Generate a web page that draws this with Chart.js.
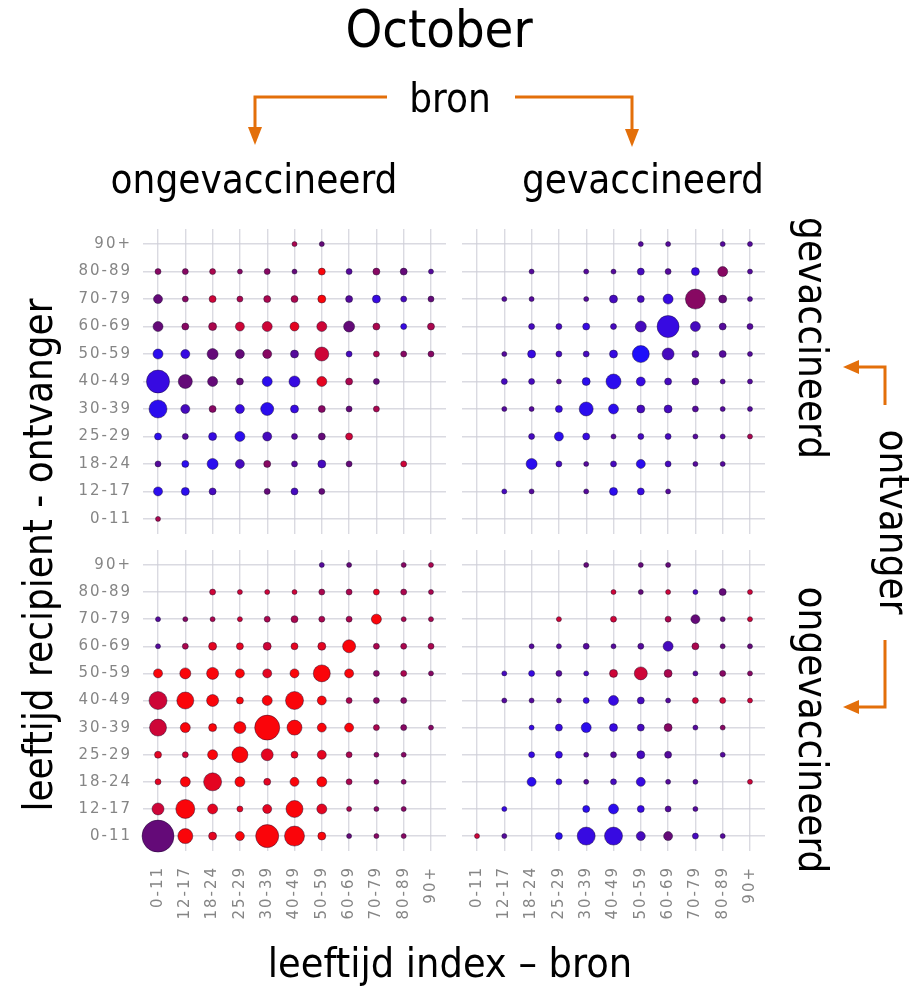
<!DOCTYPE html>
<html>
<head>
<meta charset="utf-8">
<script src="https://cdn.jsdelivr.net/npm/chart.js@4"></script>
<style>
  html, body { margin: 0; padding: 0; background: #fff; }
  #page { position: relative; width: 910px; height: 987px; background: #fff; overflow: hidden; }
  #page canvas { position: absolute; filter: blur(0.6px); }
  #notes { position: absolute; left: 0; top: 0; width: 910px; height: 987px; pointer-events: none; }
  #notes text { font-family: "DejaVu Sans", sans-serif; font-stretch: condensed; fill: #000; }
</style>
</head>
<body>
<div id="page">
  <canvas id="tl" width="406" height="305" style="left:40px; top:229px;"></canvas>
  <canvas id="tr" width="303" height="305" style="left:462px; top:229px;"></canvas>
  <canvas id="bl" width="406" height="391" style="left:40px; top:550px;"></canvas>
  <canvas id="br" width="303" height="391" style="left:462px; top:550px;"></canvas>
  <svg id="notes" viewBox="0 0 910 987">
    <text x="439" y="47" font-size="52" text-anchor="middle">October</text>
    <text x="450" y="112" font-size="40" text-anchor="middle">bron</text>
    <text x="254" y="193" font-size="40" text-anchor="middle">ongevaccineerd</text>
    <text x="643" y="193" font-size="40" text-anchor="middle">gevaccineerd</text>
    <text font-size="40" text-anchor="middle" transform="translate(799,338) rotate(90)">gevaccineerd</text>
    <text font-size="40" text-anchor="middle" transform="translate(799,730) rotate(90)">ongevaccineerd</text>
    <text font-size="40" text-anchor="middle" transform="translate(880,522) rotate(90)">ontvanger</text>
    <text font-size="40" text-anchor="middle" transform="translate(52,555) rotate(-90)">leeftijd recipient - ontvanger</text>
    <text x="450" y="977" font-size="41" text-anchor="middle">leeftijd index – bron</text>
    <g stroke="#e36f0a" stroke-width="3" fill="none">
      <polyline points="387,97 255,97 255,128"/>
      <polyline points="515,97 632,97 632,130"/>
      <polyline points="885,405 885,367 858,367"/>
      <polyline points="885,640 885,707 858,707"/>
    </g>
    <g fill="#e36f0a">
      <polygon points="248,127 262,127 255,145"/>
      <polygon points="625,129 639,129 632,147"/>
      <polygon points="859,360 859,374 843,367"/>
      <polygon points="859,700 859,714 843,707"/>
    </g>
  </svg>
</div>
<script>
// Age groups used on both axes (source index age and recipient age)
const AGES = ['0-11', '12-17', '18-24', '25-29', '30-39', '40-49', '50-59', '60-69', '70-79', '80-89', '90+'];

// Each grid: one row per recipient age group (0-11 first), one column per source age group.
// Size = bubble radius, 0 = no contacts recorded.
// Share = how much of the cell comes from unvaccinated recipients (0 = blue, 10 = red).

// source unvaccinated -> recipient vaccinated
const unvacToVacSize = [
  [2.5, 0, 0, 0, 0, 0, 0, 0, 0, 0, 0],
  [4.5, 4, 3.5, 0, 3, 3.5, 3, 0, 0, 0, 0],
  [3, 3.5, 5.5, 4.5, 3.5, 3, 4, 3, 0, 3, 0],
  [3.5, 3, 4, 5, 4.5, 3, 3.5, 3.5, 0, 0, 0],
  [9, 4.5, 3.5, 4.5, 6.5, 4, 3.5, 3, 3, 0, 0],
  [11.5, 7, 5, 3.5, 5, 5.5, 5, 3.5, 3, 0, 0],
  [5, 4.5, 5.5, 4.5, 4.5, 4, 7, 3, 3, 3, 3],
  [5, 3.5, 4, 4.5, 5, 4.5, 5, 5.5, 3.5, 3, 3.5],
  [4.5, 3, 3.5, 3, 3.5, 3.5, 4, 3.5, 4, 3, 3],
  [3, 3, 3, 2.5, 3, 2.5, 3.5, 3, 3.5, 3.5, 2.5],
  [0, 0, 0, 0, 0, 2.5, 2.5, 0, 0, 0, 0]
];
const unvacToVacShare = [
  [7, 0, 0, 0, 0, 0, 0, 0, 0, 0, 0],
  [1, 1, 3, 0, 5, 3, 5, 0, 0, 0, 0],
  [4, 1, 1, 3, 6, 4, 3, 5, 0, 8, 0],
  [1, 4, 2, 1, 3, 4, 5, 8, 0, 0, 0],
  [1, 3, 6, 2, 1, 2, 6, 5, 7, 0, 0],
  [2, 5, 5, 5, 1, 2, 9, 7, 5, 0, 0],
  [1, 2, 5, 5, 6, 4, 8, 3, 7, 6, 6],
  [5, 6, 7, 8, 8, 9, 8, 5, 7, 2, 7],
  [5, 6, 8, 7, 7, 7, 10, 4, 2, 3, 5],
  [6, 6, 7, 6, 6, 5, 10, 4, 6, 5, 4],
  [0, 0, 0, 0, 0, 7, 5, 0, 0, 0, 0]
];

// source vaccinated -> recipient vaccinated
const vacToVacSize = [
  [0, 0, 0, 0, 0, 0, 0, 0, 0, 0, 0],
  [0, 2.5, 2.5, 0, 2.5, 4, 3.5, 2.5, 0, 0, 0],
  [0, 0, 5.5, 3, 2.5, 3, 4.5, 3, 2.5, 2.5, 0],
  [0, 0, 3, 4.5, 3.5, 2.5, 3, 3, 2.5, 2.5, 2.5],
  [0, 2.5, 2.5, 3.5, 7, 5, 4, 4, 3, 2.5, 2.5],
  [0, 3, 3, 2.5, 4, 7.5, 4.5, 3.5, 3.5, 2.5, 2.5],
  [0, 2.5, 4, 3, 3, 4, 8.5, 6, 3.5, 3.5, 2.5],
  [0, 0, 3, 3, 3.5, 3, 5.5, 11, 5, 3.5, 3],
  [0, 2.5, 2.5, 0, 2.5, 4, 3.5, 5, 10, 4, 2.5],
  [0, 0, 2.5, 0, 2.5, 2.5, 3.5, 3, 4, 5, 2.5],
  [0, 0, 0, 0, 0, 0, 2.5, 2.5, 0, 2.5, 2.5]
];
const vacToVacShare = [
  [0, 0, 0, 0, 0, 0, 0, 0, 0, 0, 0],
  [0, 3, 4, 0, 4, 1, 2, 4, 0, 0, 0],
  [0, 0, 1, 3, 4, 3, 1, 3, 4, 4, 0],
  [0, 0, 3, 1, 2, 4, 3, 3, 4, 4, 7],
  [0, 4, 4, 2, 1, 1, 3, 3, 4, 4, 4],
  [0, 3, 3, 4, 1, 1, 2, 3, 4, 4, 4],
  [0, 4, 2, 3, 3, 2, 0, 3, 4, 4, 4],
  [0, 0, 3, 3, 2, 3, 3, 2, 3, 4, 4],
  [0, 4, 4, 0, 4, 3, 3, 2, 6, 5, 4],
  [0, 0, 4, 0, 4, 4, 3, 4, 2, 6, 4],
  [0, 0, 0, 0, 0, 0, 4, 4, 0, 4, 4]
];

// source unvaccinated -> recipient unvaccinated
const unvacToUnvacSize = [
  [16, 7.5, 4, 4.5, 11.5, 10, 4, 2.5, 2.5, 2.5, 0],
  [6, 9.5, 5, 3, 4.5, 8.5, 5, 2.5, 2.5, 2.5, 0],
  [3, 5, 9, 5, 3.5, 4.5, 5, 3, 2.5, 2.5, 0],
  [3.5, 3, 5, 8, 6, 3.5, 4.5, 3, 2.5, 2.5, 0],
  [8.5, 5, 4, 6, 12.5, 7.5, 4.5, 4.5, 3, 3, 2.5],
  [9, 8.5, 6, 3.5, 5, 9, 4.5, 3, 3, 3, 0],
  [4.5, 5.5, 6, 4.5, 4.5, 4.5, 8.5, 4.5, 3, 3, 2.5],
  [2.5, 3, 4, 3.5, 4, 3.5, 4, 6.5, 3, 3, 3],
  [2.5, 2.5, 2.5, 2.5, 3, 3.5, 3, 3, 5, 2.5, 2.5],
  [0, 0, 3, 2.5, 2.5, 2.5, 3, 3, 3, 3, 2.5],
  [0, 0, 0, 0, 0, 0, 2.5, 2.5, 0, 2.5, 2.5]
];
const unvacToUnvacShare = [
  [5, 10, 9, 10, 10, 10, 10, 5, 6, 6, 0],
  [8, 10, 9, 9, 9, 10, 9, 7, 6, 6, 0],
  [9, 10, 9, 10, 9, 10, 10, 7, 6, 6, 0],
  [9, 8, 10, 10, 9, 9, 9, 7, 6, 6, 0],
  [8, 10, 10, 10, 10, 10, 10, 10, 7, 6, 6],
  [8, 10, 10, 10, 10, 10, 10, 7, 6, 6, 0],
  [10, 10, 10, 10, 9, 10, 10, 10, 6, 7, 6],
  [4, 7, 9, 9, 8, 9, 9, 10, 7, 7, 7],
  [4, 6, 7, 8, 7, 7, 7, 7, 10, 7, 7],
  [0, 0, 8, 8, 8, 8, 7, 7, 9, 7, 7],
  [0, 0, 0, 0, 0, 0, 4, 5, 0, 6, 7]
];

// source vaccinated -> recipient unvaccinated
const vacToUnvacSize = [
  [2.5, 2.5, 0, 3.5, 9, 9, 4.5, 4.5, 3, 2.5, 0],
  [0, 2.5, 0, 0, 3.5, 5, 3.5, 3, 2.5, 0, 0],
  [0, 0, 4.5, 3, 2.5, 3, 4.5, 2.5, 2.5, 0, 2.5],
  [0, 0, 3, 3.5, 2.5, 3, 4, 3.5, 0, 2.5, 0],
  [0, 0, 2.5, 3.5, 5, 4, 3.5, 4, 2.5, 2.5, 0],
  [0, 2.5, 2.5, 2.5, 3, 5, 3.5, 2.5, 3, 3, 2.5],
  [0, 2.5, 3, 3, 2.5, 4, 6.5, 4, 2.5, 3, 2.5],
  [0, 0, 2.5, 2.5, 3, 2.5, 3, 5, 3.5, 2.5, 2.5],
  [0, 0, 0, 2.5, 0, 3, 0, 3, 4.5, 2.5, 2.5],
  [0, 0, 0, 0, 0, 2.5, 2.5, 2.5, 2.5, 3.5, 2.5],
  [0, 0, 0, 0, 2.5, 0, 2.5, 2.5, 0, 0, 0]
];
const vacToUnvacShare = [
  [8, 4, 0, 1, 2, 2, 3, 5, 3, 4, 0],
  [0, 2, 0, 0, 1, 1, 2, 4, 4, 0, 0],
  [0, 0, 1, 2, 4, 3, 2, 4, 4, 0, 8],
  [0, 0, 2, 2, 4, 4, 3, 4, 0, 4, 0],
  [0, 0, 2, 2, 1, 2, 3, 6, 4, 6, 0],
  [0, 4, 4, 4, 2, 2, 3, 4, 8, 8, 8],
  [0, 3, 2, 4, 3, 8, 8, 7, 4, 6, 6],
  [0, 0, 4, 4, 4, 4, 4, 3, 7, 5, 5],
  [0, 0, 0, 8, 0, 8, 0, 7, 5, 5, 8],
  [0, 0, 0, 0, 0, 8, 5, 8, 3, 5, 8],
  [0, 0, 0, 0, 5, 0, 5, 5, 0, 0, 0]
];

// Blue -> purple -> red ramp for the share value
const RAMP = [
  [0, [30, 15, 250]],
  [2, [55, 10, 225]],
  [5, [100, 10, 120]],
  [8, [205, 5, 55]],
  [10, [250, 5, 10]]
];
function shareColor(s) {
  for (let i = 1; i < RAMP.length; i++) {
    const [s1, c1] = RAMP[i];
    const [s0, c0] = RAMP[i - 1];
    if (s <= s1) {
      const t = (s - s0) / (s1 - s0);
      const c = c0.map((v, k) => Math.round(v + (c1[k] - v) * t));
      return `rgb(${c[0]},${c[1]},${c[2]})`;
    }
  }
  return 'rgb(250,5,10)';
}

function cells(sizes, shares) {
  const pts = [];
  sizes.forEach((row, y) => row.forEach((r, x) => {
    if (r > 0) pts.push({ x, y, r, s: shares[y][x] });
  }));
  return pts;
}

const GRID = 'rgba(205,205,215,0.75)';
const TICK_FONT = { family: 'DejaVu Sans', size: 15 };
const TICK_COLOR = '#858585';

// Wider tracking for the age tick labels
const trackingPlugin = {
  id: 'tracking',
  beforeDraw: chart => { chart.ctx.letterSpacing = '2px'; }
};

function panel(id, sizes, shares, showX, showY) {
  const ageTicks = s => { s.ticks = AGES.map((_, i) => ({ value: i })); };
  new Chart(document.getElementById(id), {
    type: 'bubble',
    plugins: [trackingPlugin],
    data: {
      datasets: [{
        data: cells(sizes, shares),
        backgroundColor: c => shareColor(c.raw.s),
        borderColor: 'rgba(25,10,45,0.45)',
        borderWidth: 1,
        clip: false
      }]
    },
    options: {
      responsive: false,
      animation: false,
      events: [],
      layout: { padding: 0, autoPadding: false },
      plugins: { legend: { display: false }, tooltip: { enabled: false } },
      scales: {
        x: {
          type: 'linear', min: -0.55, max: 10.55,
          afterBuildTicks: ageTicks,
          grid: { color: GRID, lineWidth: 1.4, drawTicks: false },
          border: { display: false },
          ticks: {
            display: showX, autoSkip: false, minRotation: 90, maxRotation: 90,
            padding: 15, font: TICK_FONT, color: TICK_COLOR,
            callback: v => AGES[v]
          },
          afterFit: s => { s.height = showX ? 90 : 0; s.paddingLeft = 0; s.paddingRight = 0; }
        },
        y: {
          type: 'linear', min: -0.55, max: 10.55,
          afterBuildTicks: ageTicks,
          grid: { color: GRID, lineWidth: 1.4, drawTicks: false },
          border: { display: false },
          ticks: {
            display: showY, autoSkip: false, padding: 11,
            font: TICK_FONT, color: TICK_COLOR,
            callback: v => AGES[v]
          },
          afterFit: s => { s.width = showY ? 103 : 0; s.paddingTop = 0; s.paddingBottom = 0; }
        }
      }
    }
  });
}

panel('tl', unvacToVacSize, unvacToVacShare, false, true);
panel('tr', vacToVacSize, vacToVacShare, false, false);
panel('bl', unvacToUnvacSize, unvacToUnvacShare, true, true);
panel('br', vacToUnvacSize, vacToUnvacShare, true, false);
</script>
</body>
</html>
